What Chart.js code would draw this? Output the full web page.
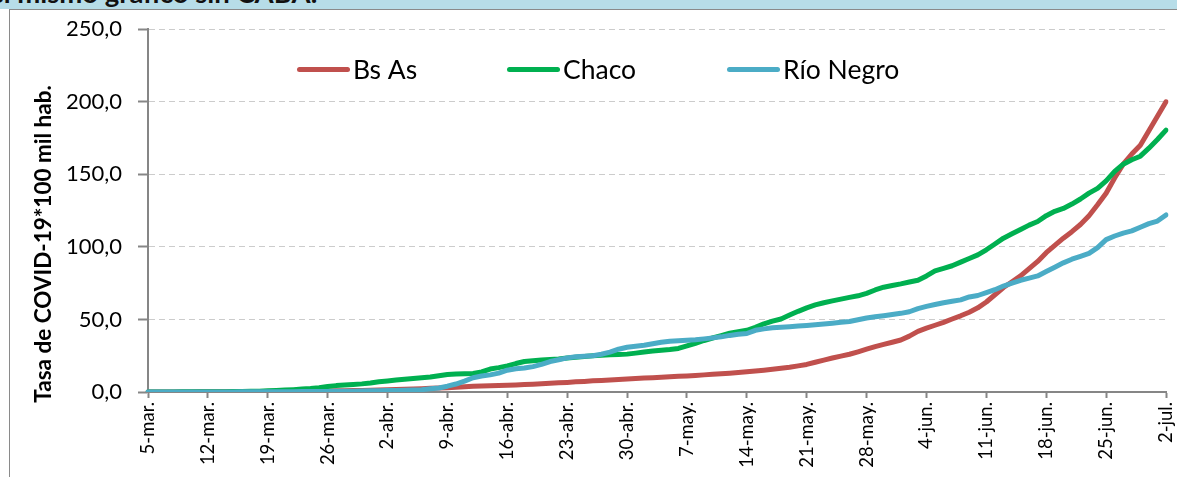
<!DOCTYPE html>
<html>
<head>
<meta charset="utf-8">
<title>Tasa de COVID-19 cada 100 mil hab. - sin CABA</title>
<script src="https://cdn.jsdelivr.net/npm/chart.js@4.4.1/dist/chart.umd.min.js"></script>
<style>
    body { margin: 0; width: 1177px; height: 477px; overflow: hidden; background: #fff; font-family: Lato, sans-serif; }
    #banda { position: absolute; left: 0; top: 0; width: 1177px; height: 9px; background: #b7dde8; overflow: hidden; }
    #banda span { position: absolute; left: -11px; top: -21px; font-weight: bold; font-size: 27.5px; line-height: 27px; color: #111; white-space: nowrap; }
    #marco { position: absolute; left: 9px; top: 9px; width: 1200px; height: 500px; border-left: 1px solid #8a8a8a; border-top: 1px solid #8a8a8a; }
    #grafico { position: absolute; left: 0; top: 0; }
</style>
</head>
<body>
<div id="banda"><span>el mismo gráfico sin CABA:</span></div>
<div id="marco"></div>
<canvas id="grafico" width="1177" height="477"></canvas>
<script>
// tasa acumulada cada 100 mil hab., un valor por día del 5-mar. al 2-jul.
const series = ['Bs As', 'Chaco', 'Río Negro'];
const colores = ['#c0504d', '#00b050', '#4bacc6'];

const bsAs = [
    0.0, 0.0, 0.0, 0.0, 0.0, 0.0, 0.1, 0.1, 0.1, 0.1,
    0.2, 0.2, 0.2, 0.3, 0.3, 0.3, 0.4, 0.4, 0.5, 0.5,
    0.6, 0.7, 0.8, 0.9, 1.0, 1.1, 1.2, 1.3, 1.5, 1.7,
    1.9, 2.1, 2.3, 2.5, 2.8, 3.0, 3.3, 3.6, 3.9, 4.1,
    4.3, 4.5, 4.7, 4.9, 5.1, 5.4, 5.7, 6.0, 6.3, 6.6,
    7.0, 7.3, 7.7, 8.0, 8.3, 8.6, 9.0, 9.3, 9.6, 9.9,
    10.2, 10.5, 10.8, 11.1, 11.4, 11.8, 12.2, 12.6, 13.0, 13.5,
    14.0, 14.5, 15.0, 15.6, 16.3, 17.0, 18.0, 19.0, 20.5, 22.0,
    23.4, 24.7, 26.0, 27.7, 29.5, 31.3, 32.8, 34.3, 35.8, 38.5,
    41.8, 44.0, 46.0, 48.0, 50.3, 52.5, 55.0, 58.0, 62.0, 67.0,
    72.0, 76.0, 80.0, 85.0, 90.0, 96.0, 101.0, 106.0, 110.5, 115.4,
    121.5, 129.0, 137.0, 147.5, 157.0, 164.0, 170.0, 180.0, 190.0, 200.0
];
const chaco = [
    0.0, 0.0, 0.0, 0.0, 0.1, 0.1, 0.1, 0.2, 0.2, 0.2,
    0.3, 0.4, 0.5, 0.6, 0.8, 1.0, 1.3, 1.6, 2.0, 2.4,
    3.0, 3.8, 4.4, 4.8, 5.2, 5.6, 6.2, 7.0, 7.6, 8.2,
    8.8, 9.3, 9.8, 10.3, 11.2, 12.0, 12.4, 12.6, 12.8, 13.8,
    15.8, 16.8, 18.0, 19.6, 21.0, 21.6, 22.0, 22.4, 22.8, 23.5,
    24.0, 24.5, 25.0, 25.3, 25.6, 25.8, 26.1, 26.8, 27.6, 28.2,
    28.8, 29.3, 30.0, 31.8, 33.6, 35.5, 37.2, 38.8, 40.5, 41.5,
    42.5, 44.5, 47.0, 48.8, 50.3, 53.0, 55.6, 58.0, 60.0, 61.5,
    62.8, 64.0, 65.2, 66.3, 68.0, 70.3, 72.2, 73.4, 74.5, 75.8,
    77.0, 80.0, 83.5, 85.2, 87.0, 89.5, 92.0, 94.5, 98.0, 102.0,
    106.0, 109.0, 112.0, 115.0, 117.5, 121.5, 124.5, 126.5, 129.5, 133.0,
    137.0, 140.3, 145.5, 152.0, 157.0, 160.0, 162.5, 168.0, 174.0, 180.5
];
const rioNegro = [
    0.0, 0.0, 0.0, 0.0, 0.0, 0.0, 0.0, 0.0, 0.0, 0.0,
    0.0, 0.1, 0.1, 0.1, 0.1, 0.2, 0.2, 0.2, 0.3, 0.3,
    0.4, 0.4, 0.5, 0.5, 0.6, 0.7, 0.8, 0.9, 1.0, 1.1,
    1.2, 1.4, 1.6, 2.2, 2.8, 4.0, 5.5, 7.5, 9.8, 11.0,
    11.8, 13.0, 15.0, 16.0, 16.5, 17.5, 19.0, 21.0, 22.2, 23.5,
    24.3, 24.7, 25.0, 26.0, 27.5, 29.5, 30.8, 31.5, 32.2, 33.3,
    34.3, 35.0, 35.3, 35.6, 36.0, 36.6, 37.3, 38.0, 39.0, 39.8,
    40.3, 42.5, 43.5, 44.2, 44.6, 45.0, 45.5, 45.9, 46.4, 46.9,
    47.4, 48.0, 48.6, 49.8, 51.0, 51.8, 52.6, 53.4, 54.2, 55.3,
    57.5, 59.0, 60.3, 61.5, 62.5, 63.5, 65.5, 66.5, 68.5, 70.5,
    73.0, 75.0, 77.0, 78.5, 80.0, 83.0, 86.0, 89.0, 91.5, 93.5,
    95.5, 99.5, 105.0, 107.5, 109.5, 111.0, 113.5, 116.0, 117.8, 122.0
];

const meses = ['mar.', 'abr.', 'may.', 'jun.', 'jul.'];
const diasMes = [31, 30, 31, 30, 31];
const yTicks = [0, 50, 100, 150, 200, 250];
const cadaCuantos = 7; // una etiqueta por semana

// fechas: 5-mar., 6-mar., ... 2-jul.
const fechas = [];
let mes = 0, dia = 5;
for (let i = 0; i < bsAs.length; i++) {
    fechas.push(dia + '-' + meses[mes]);
    dia++;
    if (dia > diasMes[mes]) { dia = 1; mes++; }
}

const gris = '#868686';
const guiones = [6, 4];

// leyenda y título del eje dibujados a mano (como en el Excel)
const extras = {
    id: 'extras',
    afterDraw(chart) {
        const ctx = chart.ctx;
        const leyendaX = [297, 507, 727];
        ctx.save();
        ctx.lineCap = 'round';
        ctx.lineWidth = 5;
        ctx.font = '26.5px Lato';
        ctx.textBaseline = 'alphabetic';
        chart.data.datasets.forEach((ds, i) => {
            const x = leyendaX[i];
            ctx.strokeStyle = ds.borderColor;
            ctx.beginPath();
            ctx.moveTo(x + 2.5, 69.5);
            ctx.lineTo(x + 50.5, 69.5);
            ctx.stroke();
            ctx.fillStyle = '#000';
            ctx.fillText(ds.label, x + 56, 79);
        });
        ctx.translate(44, 244);
        ctx.rotate(-Math.PI / 2);
        ctx.font = 'bold 22.5px Lato';
        ctx.textAlign = 'center';
        ctx.textBaseline = 'middle';
        ctx.fillText('Tasa de COVID-19*100 mil hab.', 0, 0);
        ctx.restore();
    }
};

const datos = [bsAs, chaco, rioNegro];
new Chart(document.getElementById('grafico'), {
    type: 'line',
    data: {
        labels: fechas,
        datasets: series.map((s, i) => ({
            label: s,
            data: datos[i],
            borderColor: colores[i],
            backgroundColor: colores[i],
            borderWidth: 5,
            borderCapStyle: 'round',
            borderJoinStyle: 'round',
            pointRadius: 0,
            tension: 0,
            order: 2 - i
        }))
    },
    options: {
        responsive: false,
        animation: false,
        devicePixelRatio: 1,
        layout: { padding: { left: 0, right: 11, top: 27, bottom: 0 } },
        plugins: { legend: { display: false }, tooltip: { enabled: false } },
        scales: {
            x: {
                afterFit: s => { s.height = 85; s.paddingLeft = 0; s.paddingRight = 0; },
                grid: {
                    drawOnChartArea: false,
                    drawTicks: true,
                    tickLength: 6,
                    tickWidth: 2,
                    tickColor: c => c.index % cadaCuantos === 0 ? gris : 'rgba(0,0,0,0)'
                },
                border: { display: true, color: gris, width: 2 },
                ticks: {
                    autoSkip: false,
                    minRotation: 90,
                    maxRotation: 90,
                    padding: 4,
                    color: '#000',
                    font: { family: 'Lato', size: 18.5 },
                    callback: (v, i) => i % cadaCuantos === 0 ? fechas[i] : ''
                }
            },
            y: {
                min: 0,
                max: 250,
                afterFit: s => { s.width = 148; },
                afterBuildTicks: s => { s.ticks = yTicks.map(v => ({ value: v })); },
                grid: { color: '#cccccc', lineWidth: 1, borderDash: guiones, tickLength: 10, tickWidth: 2, tickColor: gris },
                border: { display: true, color: gris, width: 2, dash: guiones },
                ticks: {
                    padding: 16,
                    color: '#000',
                    font: { family: 'Lato', size: 22 },
                    callback: v => v.toFixed(1).replace('.', ',')
                }
            }
        }
    },
    plugins: [extras]
});
</script>
</body>
</html>
